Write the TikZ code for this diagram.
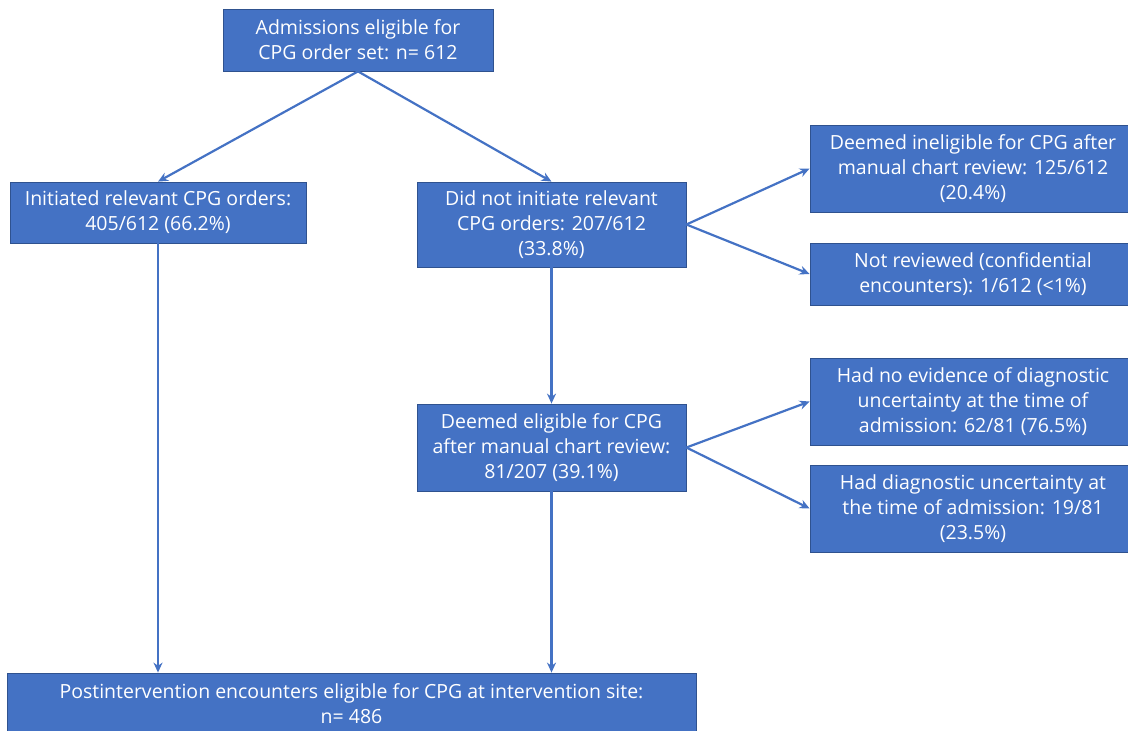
\documentclass[tikz,border=0pt]{standalone}
\usepackage{fontspec}
\setmainfont{Open Sans}
\usetikzlibrary{arrows.meta}
\definecolor{boxblue}{HTML}{4472C4}
\definecolor{edgeblue}{HTML}{2F528F}
\begin{document}
\begin{tikzpicture}[x=1pt,y=-1pt,
  box node/.style={rectangle,draw=edgeblue,line width=0.8pt,fill=boxblue,text=white,
    align=center,inner sep=0pt,font=\fontsize{19.5}{25}\selectfont},
  flow/.style={draw=boxblue,line width=2.2pt,-{Stealth[length=10pt,width=9pt]}}]

  \useasboundingbox (0,0) rectangle (1128,731);

  \node[box node,minimum width=270,minimum height=62] (adm) at (358,40)
    {Admissions eligible for\\CPG order set: n= 612};
  \node[box node,minimum width=296,minimum height=61] (init) at (158,212.5)
    {Initiated relevant CPG orders:\\405/612 (66.2\%)};
  \node[box node,minimum width=269,minimum height=85] (notinit) at (551.5,224.5)
    {Did not initiate relevant\\CPG orders: 207/612\\(33.8\%)};
  \node[box node,minimum width=326,minimum height=87] (inelig) at (973,168.5)
    {Deemed ineligible for CPG after\\manual chart review: 125/612\\(20.4\%)};
  \node[box node,minimum width=326,minimum height=62] (notrev) at (973,274)
    {Not reviewed (confidential\\encounters): 1/612 (<1\%)};
  \node[box node,minimum width=269,minimum height=87] (elig) at (551.5,447.5)
    {Deemed eligible for CPG\\after manual chart review:\\81/207 (39.1\%)};
  \node[box node,minimum width=326,minimum height=87] (noevid) at (973,401.5)
    {Had no evidence of diagnostic\\uncertainty at the time of\\admission: 62/81 (76.5\%)};
  \node[box node,minimum width=326,minimum height=87] (uncert) at (973,508.5)
    {Had diagnostic uncertainty at\\the time of admission: 19/81\\(23.5\%)};
  \node[box node,minimum width=689,minimum height=62] (post) at (351.5,704)
    {Postintervention encounters eligible for CPG at intervention site:\\n= 486};

  \path[every edge/.style=flow]
   (adm.south) edge (init.north)
   (adm.south) edge (notinit.north)
   (notinit.east) edge (inelig.west)
   (notinit.east) edge (notrev.west)
   (notinit.south) edge (elig.north)
   (elig.east) edge (noevid.west)
   (elig.east) edge (uncert.west)
   (init.south) edge (init.south |- post.north)
   (elig.south) edge (elig.south |- post.north);
\end{tikzpicture}
\end{document}
